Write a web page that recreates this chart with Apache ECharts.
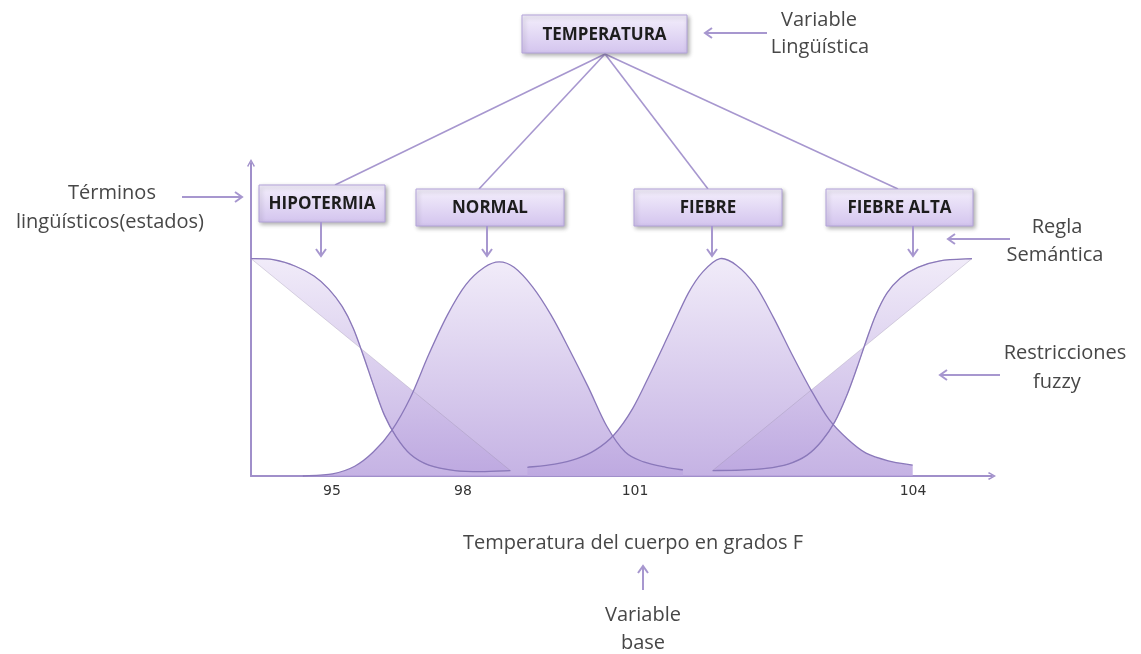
<!DOCTYPE html>
<html><head><meta charset="utf-8">
<script src="https://cdn.jsdelivr.net/npm/echarts@6/dist/echarts.min.js"></script>
<style>html,body{margin:0;padding:0;background:#fff}#c{width:1141px;height:654px}</style>
</head><body><div id="c"></div>
<script>
// ---- data (x in axis position units 0..100, y = membership degree) ----
const hipotermia = [[0,1.0],[3.0,0.995],[6.0,0.965],[8.5,0.92],[10.5,0.86],[12.3,0.78],[13.8,0.68],[15.2,0.55],[16.6,0.41],[18.0,0.28],[19.6,0.18],[21.5,0.10],[24.0,0.05],[27.5,0.025],[31.0,0.02],[35.0,0.025]];
const normal = [[7.0,0.0],[11.0,0.01],[14.0,0.045],[16.5,0.11],[19.0,0.21],[21.5,0.36],[24.0,0.56],[26.5,0.74],[29.0,0.88],[31.5,0.96],[33.5,0.985],[35.5,0.96],[38.0,0.87],[40.5,0.74],[43.0,0.58],[45.5,0.41],[48.0,0.23],[50.5,0.11],[53.0,0.065],[56.0,0.04],[58.3,0.028]];
const fiebre = [[37.3,0.04],[41.0,0.055],[44.0,0.08],[46.5,0.12],[49.0,0.19],[51.5,0.31],[54.0,0.48],[56.5,0.66],[59.0,0.84],[61.0,0.94],[63.3,1.0],[65.5,0.97],[68.0,0.88],[70.5,0.73],[73.0,0.56],[75.5,0.40],[78.0,0.26],[80.5,0.17],[83.0,0.105],[86.0,0.07],[89.3,0.05]];
const fiebreAlta = [[62.3,0.025],[66.0,0.027],[69.5,0.035],[72.5,0.055],[75.0,0.095],[77.0,0.16],[78.8,0.25],[80.4,0.37],[81.8,0.50],[83.0,0.62],[84.3,0.74],[85.8,0.84],[87.6,0.91],[90.0,0.96],[93.0,0.99],[97.3,1.0]];
const tickPositions = [10.93, 28.61, 51.82, 89.34];
const tickLabels = ['95', '98', '101', '104'];
const rootLabel = 'TEMPERATURA';
const termLabels = ['HIPOTERMIA', 'NORMAL', 'FIEBRE', 'FIEBRE ALTA'];
const axisTitle = 'Temperatura del cuerpo en grados F';

// ---- styling / layout ----
const PURPLE = '#a797cf';
const CURVE = '#8a78ba';
const TXT = '#474747';
const FONT = '"Open Sans", sans-serif';

function bezierPath(pts) {
  let d = 'M' + pts[0][0] + ',' + pts[0][1];
  for (let i = 0; i < pts.length - 1; i++) {
    const p0 = pts[i - 1] || pts[i], p1 = pts[i], p2 = pts[i + 1], p3 = pts[i + 2] || p2;
    const c1 = [p1[0] + (p2[0] - p0[0]) / 6, p1[1] + (p2[1] - p0[1]) / 6];
    const c2 = [p2[0] - (p3[0] - p1[0]) / 6, p2[1] - (p3[1] - p1[1]) / 6];
    d += ' C' + c1[0] + ',' + c1[1] + ' ' + c2[0] + ',' + c2[1] + ' ' + p2[0] + ',' + p2[1];
  }
  return d;
}
function fillGrad() {
  return new echarts.graphic.LinearGradient(0, 0, 0, 1, [
    { offset: 0, color: '#efe9f8' }, { offset: 1, color: '#bda8e0' }
  ]);
}
function curveSeries(name, pts, mode, part) {
  return {
    type: 'custom', name: name, z: part === 'fill' ? 2 : 4, data: pts, coordinateSystem: 'cartesian2d', silent: true,
    encode: { x: 0, y: 1 },
    renderItem: function (params, api) {
      if (params.dataIndex !== 0) return null;
      const px = pts.map(function (p) { return api.coord(p); });
      const curve = bezierPath(px);
      if (part === 'stroke') {
        return { type: 'path', shape: { pathData: curve }, style: { fill: null, stroke: CURVE, lineWidth: 1.3 } };
      }
      let fillD;
      if (mode === 'diagonal') {
        fillD = curve + ' Z';
      } else {
        const b1 = api.coord([pts[pts.length - 1][0], 0]);
        const b0 = api.coord([pts[0][0], 0]);
        fillD = curve + ' L' + b1[0] + ',' + b1[1] + ' L' + b0[0] + ',' + b0[1] + ' Z';
      }
      return { type: 'path', shape: { pathData: fillD }, style: { fill: fillGrad(), opacity: 0.88, stroke: mode === 'diagonal' ? 'rgba(150,140,165,0.45)' : null, lineWidth: 0.8 } };
    }
  };
}
function arrow(x1, y1, x2, y2) {
  const a = Math.atan2(y2 - y1, x2 - x1), L = 7, W = 5;
  const p1 = [x2 - L * Math.cos(a) + W * Math.sin(a), y2 - L * Math.sin(a) - W * Math.cos(a)];
  const p2 = [x2 - L * Math.cos(a) - W * Math.sin(a), y2 - L * Math.sin(a) + W * Math.cos(a)];
  return [
    { type: 'line', shape: { x1: x1, y1: y1, x2: x2, y2: y2 }, style: { stroke: PURPLE, lineWidth: 2 } },
    { type: 'polyline', shape: { points: [p1, [x2, y2], p2] }, style: { stroke: PURPLE, lineWidth: 2, fill: null } }
  ];
}
function box(x, y, w, h, label) {
  return [
    { type: 'rect', shape: { x: x, y: y, width: w, height: h },
      style: { fill: new echarts.graphic.LinearGradient(0, 0, 0, 1, [{ offset: 0, color: '#f4effc' }, { offset: 1, color: '#d3c4ee' }]),
        stroke: '#b3a3da', lineWidth: 1, shadowBlur: 4, shadowOffsetX: 1.5, shadowOffsetY: 2, shadowColor: 'rgba(0,0,0,0.3)' } },
    { type: 'text', x: x + w / 2, y: y + h / 2 + 1, style: { text: label, align: 'center', verticalAlign: 'middle', fontFamily: FONT, fontWeight: 'bold', fontSize: 17, fill: '#1d1d1d' } }
  ];
}
function txt(x, y, s) {
  return { type: 'text', x: x, y: y, style: { text: s, align: 'center', verticalAlign: 'middle', fontFamily: FONT, fontSize: 20, fill: TXT } };
}

const boxes = [[259, 185, 126, 37], [416, 189, 148, 37], [634, 189, 148, 37], [826, 189, 147, 37]];
const linkEnds = [[335, 185], [479, 189], [708, 189], [898, 189]];
const downX = [321, 487, 712, 913];

let g = [];
linkEnds.forEach(function (e) {
  g.push({ type: 'line', shape: { x1: 605, y1: 54, x2: e[0], y2: e[1] }, style: { stroke: PURPLE, lineWidth: 1.6 } });
});
g = g.concat(box(522, 15, 165, 38, rootLabel));
boxes.forEach(function (b, i) { g = g.concat(box(b[0], b[1], b[2], b[3], termLabels[i])); });
downX.forEach(function (x, i) { g = g.concat(arrow(x, boxes[i][1] + boxes[i][3], x, 256)); });
g = g.concat(arrow(767, 33, 705, 33));
g = g.concat(arrow(182, 197, 242, 197));
g = g.concat(arrow(1010, 239, 948, 239));
g = g.concat(arrow(1000, 375, 940, 375));
g = g.concat(arrow(643, 590, 643, 566));
g.push(txt(819, 20, 'Variable'), txt(820, 47, 'Lingüística'));
g.push(txt(112, 193, 'Términos'), txt(110, 222, 'lingüísticos(estados)'));
g.push(txt(1057, 227, 'Regla'), txt(1055, 255, 'Semántica'));
g.push(txt(1065, 353, 'Restricciones'), txt(1057, 382, 'fuzzy'));
g.push(txt(633, 543, axisTitle));
g.push(txt(643, 615, 'Variable'), txt(643, 643, 'base'));

const chevron = 'path://M5,0 L10,9 L8.6,10.2 L5,3.2 L1.4,10.2 L0,9 Z';
const chart = echarts.init(document.getElementById('c'), null, { renderer: 'canvas' });
chart.setOption({
  animation: false,
  backgroundColor: '#ffffff',
  grid: { left: 251, right: 149, top: 163, bottom: 178 },
  xAxis: {
    type: 'value', min: 0, max: 100,
    axisLine: { show: true, onZero: false, lineStyle: { color: '#a08fca', width: 2 }, symbol: ['none', chevron], symbolSize: [11, 8] },
    axisTick: { show: false }, splitLine: { show: false },
    axisLabel: {
      customValues: tickPositions,
      formatter: function (v) { const i = tickPositions.indexOf(v); return i >= 0 ? tickLabels[i] : ''; },
      fontFamily: 'DejaVu Sans', fontSize: 14, color: '#333', margin: 8
    }
  },
  yAxis: {
    type: 'value', min: 0, max: 1.44,
    axisLine: { show: true, onZero: false, lineStyle: { color: '#a08fca', width: 2 }, symbol: ['none', chevron], symbolSize: [11, 8] },
    axisTick: { show: false }, splitLine: { show: false }, axisLabel: { show: false }
  },
  series: [
    curveSeries('Normal', normal, 'base', 'fill'),
    curveSeries('Fiebre', fiebre, 'base', 'fill'),
    curveSeries('Hipotermia', hipotermia, 'diagonal', 'fill'),
    curveSeries('Fiebre alta', fiebreAlta, 'diagonal', 'fill'),
    curveSeries('Normal', normal, 'base', 'stroke'),
    curveSeries('Fiebre', fiebre, 'base', 'stroke'),
    curveSeries('Hipotermia', hipotermia, 'diagonal', 'stroke'),
    curveSeries('Fiebre alta', fiebreAlta, 'diagonal', 'stroke')
  ],
  graphic: { elements: g }
});
</script></body></html>
